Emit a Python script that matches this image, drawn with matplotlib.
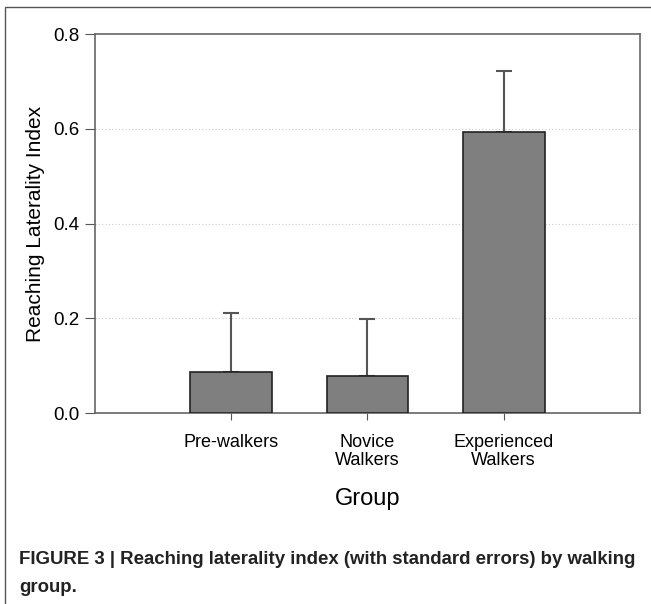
import matplotlib
matplotlib.use("Agg")
import matplotlib.pyplot as plt
from matplotlib.patches import Rectangle

# data
groups = ["Pre-walkers", "Novice\nWalkers", "Experienced\nWalkers"]
means = [0.088, 0.078, 0.594]
sem = [0.124, 0.120, 0.129]
yticks = [0.0, 0.2, 0.4, 0.6, 0.8]

plt.rcParams["font.family"] = ["Liberation Sans", "DejaVu Sans"]

fig = plt.figure(figsize=(6.51, 6.04), dpi=100)
ax = fig.add_axes([0.146, 0.3157, 0.837, 0.628])

pos = [1, 2, 3]
ax.bar(pos, means, width=0.6, color="#7f7f7f", edgecolor="#222222", lw=1.2, zorder=3)
ax.errorbar(pos, means, yerr=[[0, 0, 0], sem], fmt="none", ecolor="#555555",
            elinewidth=1.5, capsize=6, capthick=1.5, zorder=2)

ax.set_xlim(0, 4)
ax.set_ylim(0, 0.8)
ax.set_yticks(yticks)
ax.set_yticklabels([f"{v:.1f}" for v in yticks])
ax.set_xticks(pos)
ax.set_xticklabels(groups, fontsize=13, linespacing=1.05)
ax.tick_params(axis="y", labelsize=13.5, length=7, color="#555555", pad=4)
ax.tick_params(axis="x", length=5, color="#555555", pad=10)
for y in yticks[1:-1]:
    ax.axhline(y, color="#cccccc", lw=0.8, ls=(0, (1, 2)), zorder=1)
for s in ax.spines.values():
    s.set_color("#666666")
    s.set_linewidth(1.2)

ax.set_ylabel("Reaching Laterality Index", fontsize=15, labelpad=6)
ax.set_xlabel("Group", fontsize=17, labelpad=14)

# page frame around the figure
fig.patches.append(Rectangle((5 / 651, -0.1), 2, 1 - 7 / 604 + 0.1,
                             transform=fig.transFigure, fill=False,
                             edgecolor="#555555", lw=1.0))

cap_font = ["Liberation Sans Narrow", "Liberation Sans", "DejaVu Sans"]
fig.text(19 / 651, 1 - 560 / 604,
         "FIGURE 3 | Reaching laterality index (with standard errors) by walking",
         fontsize=13.4, fontweight="bold", family=cap_font, va="center", color="#222222")
fig.text(19 / 651, 1 - 588 / 604, "group.",
         fontsize=13.4, fontweight="bold", family=cap_font, va="center", color="#222222")

fig.savefig("out.png", dpi=100)
